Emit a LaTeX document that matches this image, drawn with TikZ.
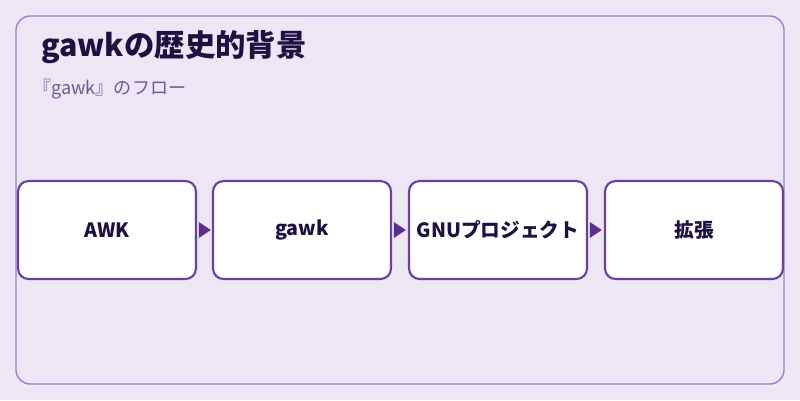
\documentclass[tikz,border=0pt]{standalone}
\usepackage{fontspec}
\setmainfont{Noto Sans CJK JP}
\usetikzlibrary{positioning}
\definecolor{bgcol}{HTML}{EDE6F5}
\definecolor{framecol}{HTML}{9B7FD0}
\definecolor{boxline}{HTML}{6A3FA0}
\definecolor{arrowcol}{HTML}{5B2D8E}
\definecolor{textcol}{HTML}{1E1040}
\definecolor{subcol}{HTML}{6B5A9A}
\begin{document}
\begin{tikzpicture}[x=0.02cm,y=-0.02cm,
	step box/.style = {draw=boxline,line width=1.2pt,fill=white,rounded corners=6pt,
		minimum width=3.56cm,minimum height=1.96cm,font=\fontsize{11.2}{13}\selectfont\bfseries,text=textcol},
	flow/.style = {draw=none,fill=arrowcol}]
	\fill[bgcol] (0,0) rectangle (800,400);
	\draw[framecol,line width=0.8pt,rounded corners=8pt] (16,16) rectangle (784,384);
	\node[anchor=west,text=textcol,font=\fontsize{17.3}{20}\selectfont\bfseries] (title) at (35,47) {gawkの歴史的背景};
	\node[anchor=west,text=subcol,font=\fontsize{10.3}{12}\selectfont] (sub) at (27,89) {『gawk』のフロー};
	\node[step box] (1) at (107,230) {\raisebox{-1.5pt}{AWK}};
	\node[step box] (2) at (302,230) {\raisebox{-1.5pt}{gawk}};
	\node[step box] (3) at (498,230) {\raisebox{-1.5pt}{GNUプロジェクト}};
	\node[step box] (4) at (694,230) {\raisebox{-1.5pt}{拡張}};
	\foreach \a/\b in {1/2,2/3,3/4}
		\fill[arrowcol] ([xshift=1pt]\a.east) ++(0,-8) -- ++(12,8) -- ++(-12,8) -- cycle;
\end{tikzpicture}
\end{document}
